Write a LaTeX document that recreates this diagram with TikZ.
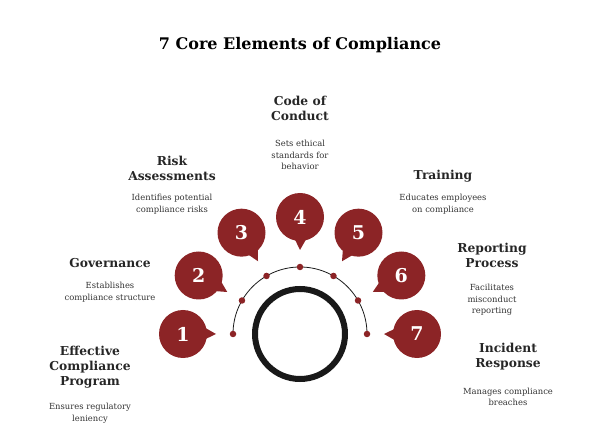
\documentclass[tikz,border=0pt]{standalone}
\usepackage{fontspec}
\setmainfont{DejaVu Serif}
\usetikzlibrary{calc}
\definecolor{darkred}{RGB}{140,36,38}

\begin{document}
\begin{tikzpicture}[x=1pt, y=-1pt,
	head/.style={font=\bfseries\fontsize{12.3}{15}\selectfont, align=center, text=black!85},
	desc/.style={font=\fontsize{8.4}{11.5}\selectfont, align=center, text=black!80},
	dot/.style={circle, fill=darkred, inner sep=0pt, minimum size=6.5pt},
	num/.style={circle, fill=darkred, inner sep=0pt, minimum size=48pt, text=white, font=\bfseries\fontsize{19}{19}\selectfont}]

			\useasboundingbox (0,0) rectangle (602,435);
			% Title
			\node[font=\bfseries\fontsize{16}{19}\selectfont] (title) at (300,45) {7 Core Elements of Compliance};

			% Centre ring and arc
			\coordinate (ctr) at (300,334);
			\draw[line width=6pt, black!90] (ctr) circle (45);
			\draw[thick, black!90] ($(ctr)+(67,0)$) arc[start angle=0, end angle=-180, radius=67];

			% Bubbles, tails and dots
			\foreach \i/\ang in {1/180, 2/150, 3/120, 4/90, 5/60, 6/30, 7/0} {
				\node[dot] (d\i) at ($(ctr)+({67*cos(\ang)},{-67*sin(\ang)})$) {};
				\coordinate (c\i) at ($(ctr)+({117*cos(\ang)},{-117*sin(\ang)})$);
				\fill[darkred] ($(c\i)+({20*cos(\ang+205)},{-20*sin(\ang+205)})$)
					-- ($(c\i)+({33*cos(\ang+180)},{-33*sin(\ang+180)})$)
					-- ($(c\i)+({20*cos(\ang+160)},{-20*sin(\ang+160)})$) -- cycle;
				\node[num] (b\i) at (c\i) {\i};
			}

			% Labels
			\node[head] (h1) at (90,367) {Effective\\Compliance\\Program};
			\node[desc] (t1) at (90,413) {Ensures regulatory\\leniency};
			\node[head] (h2) at (110,263) {Governance};
			\node[desc] (t2) at (110,292) {Establishes\\compliance structure};
			\node[head] (h3) at (172,168) {Risk\\Assessments};
			\node[desc] (t3) at (172,204) {Identifies potential\\compliance risks};
			\node[head] (h4) at (300,108) {Code of\\Conduct};
			\node[desc] (t4) at (300,155) {Sets ethical\\standards for\\behavior};
			\node[head] (h5) at (443,176) {Training};
			\node[desc] (t5) at (443,204) {Educates employees\\on compliance};
			\node[head] (h6) at (492,255) {Reporting\\Process};
			\node[desc] (t6) at (492,300) {Facilitates\\misconduct\\reporting};
			\node[head] (h7) at (508,357) {Incident\\Response};
			\node[desc] (t7) at (508,397) {Manages compliance\\breaches};
		\end{tikzpicture}
\end{document}
